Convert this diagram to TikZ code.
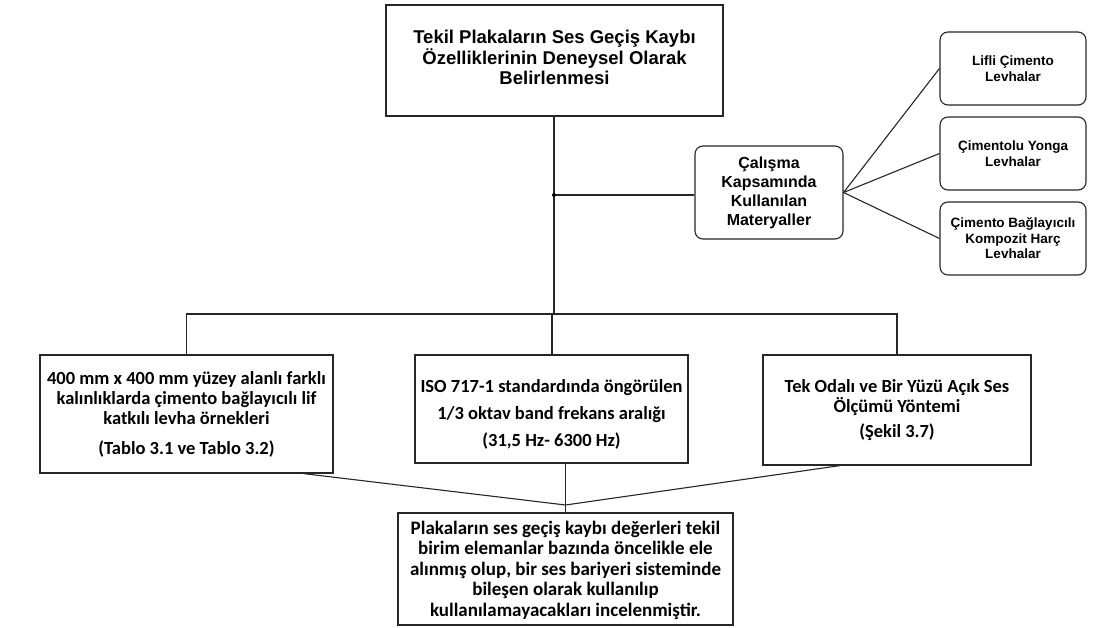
\documentclass[tikz,border=0pt]{standalone}
\usepackage{fontspec}
\newfontfamily\arialf{Liberation Sans}
\newfontfamily\calibf{Carlito}
\begin{document}
\begin{tikzpicture}[x=1pt,y=-1pt,
  box/.style={draw=black!85, line width=1.2pt, rectangle, inner sep=0pt, align=center},
  rbox/.style={box, rounded corners=8pt, line width=1.1pt},
  txt/.style={inner sep=0pt, align=center},
  conn/.style={draw=black!85, line width=1.1pt},
  ftop/.style={font={\fontsize{18.5}{20.5}\selectfont\arialf\bfseries}},
  fmat/.style={font={\fontsize{16}{19}\selectfont\arialf\bfseries}},
  fsmall/.style={font={\fontsize{13.5}{15.5}\selectfont\arialf\bfseries}},
  fcal/.style={font={\fontsize{18.5}{20}\selectfont\calibf\bfseries}},
  fcalb/.style={font={\fontsize{19}{20.5}\selectfont\calibf\bfseries}}]
\useasboundingbox (0,0) rectangle (1100,628);
\fill[white] (0,0) rectangle (1100,628);

\node[box, minimum width=337pt, minimum height=111pt] (top) at (554.5,60.5) {};
\node[txt, ftop] (topT) at (554.5,57.5)
  {Tekil Plakaların Ses Geçiş Kaybı\\Özelliklerinin Deneysel Olarak\\Belirlenmesi};

\node[rbox, fmat, minimum width=148pt, minimum height=93pt] (mat) at (769,192.5)
  {Çalışma\\Kapsamında\\Kullanılan\\Materyaller};

\node[rbox, fsmall, minimum width=146pt, minimum height=73pt] (r1) at (1013,68.5)
  {Lifli Çimento\\Levhalar};
\node[rbox, fsmall, minimum width=146pt, minimum height=73pt] (r2) at (1013,153.5)
  {Çimentolu Yonga\\Levhalar};
\node[rbox, fsmall, minimum width=146pt, minimum height=73pt] (r3) at (1013,238.5)
  {Çimento Bağlayıcılı\\Kompozit Harç\\Levhalar};

\node[box, fcal, minimum width=293pt, minimum height=118pt] (L) at (186.5,414)
  {400 mm x 400 mm yüzey alanlı farklı\\kalınlıklarda çimento bağlayıcılı lif\\katkılı levha örnekleri\\[10pt](Tablo 3.1 ve Tablo 3.2)};
\node[box, minimum width=273pt, minimum height=108pt] (M) at (551.5,409) {};
\node[txt, fcal] (MT) at (551.5,414)
  {ISO 717-1 standardında öngörülen\\[7pt]1/3 oktav band frekans aralığı\\[7pt](31,5 Hz- 6300 Hz)};
\node[box, fcal, minimum width=268pt, minimum height=110pt] (R) at (897,410)
  {Tek Odalı ve Bir Yüzü Açık Ses\\Ölçümü Yöntemi\\[5pt](Şekil 3.7)};

\node[box, minimum width=335pt, minimum height=112pt] (B) at (565.5,569) {};
\node[txt, fcalb] (BT) at (565.5,570)
  {Plakaların ses geçiş kaybı değerleri tekil\\birim elemanlar bazında öncelikle ele\\alınmış olup, bir ses bariyeri sisteminde\\bileşen olarak kullanılıp\\kullanılamayacakları incelenmiştir.};

\coordinate (busM) at (554,314);
\coordinate (busM2) at (552,314);
\coordinate (busL) at (186.5,314);
\coordinate (busR) at (897,314);
\coordinate (J) at (554,195);
\coordinate (conv) at (565.5,505);

\draw[conn] (top.south -| busM) -- (busM);
\draw[conn] (J) -- (J -| mat.west);
\fill (J) circle (2pt);
\draw[conn] (mat.east) -- (r1.west);
\draw[conn] (mat.east) -- (r2.west);
\draw[conn] (mat.east) -- (r3.west);
\draw[conn] (L.north) -- (busL) -- (busR) -- (R.north);
\draw[conn] (busM2) -- (busM2 |- M.north);
\draw[conn] ([xshift=117pt]L.south) -- (conv);
\draw[conn] ([xshift=-57pt]R.south) -- (conv);
\draw[conn] (M.south -| B.north) -- (B.north);
\end{tikzpicture}
\end{document}
